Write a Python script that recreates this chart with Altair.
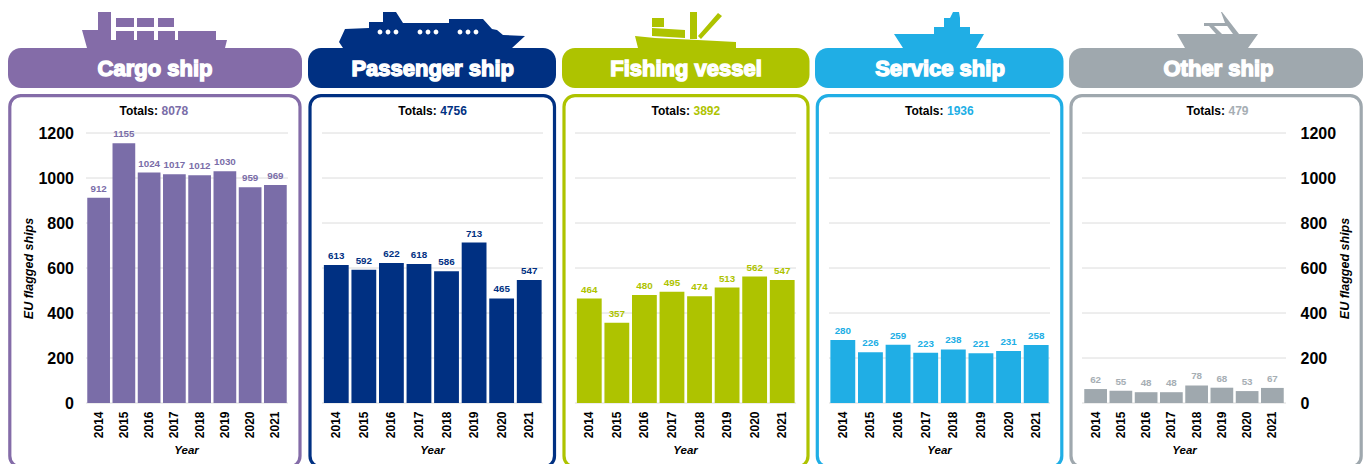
import altair as alt
import pandas as pd

FONT = "Liberation Sans"
years = ["2014", "2015", "2016", "2017", "2018", "2019", "2020", "2021"]
y_ticks = [0, 200, 400, 600, 800, 1000, 1200]

names = ["Cargo ship", "Passenger ship", "Fishing vessel", "Service ship", "Other ship"]
totals = ["8078", "4756", "3892", "1936", "479"]
cargo = [912, 1155, 1024, 1017, 1012, 1030, 959, 969]
passenger = [613, 592, 622, 618, 586, 713, 465, 547]
fishing = [464, 357, 480, 495, 474, 513, 562, 547]
service = [280, 226, 259, 223, 238, 221, 231, 258]
other = [62, 55, 48, 48, 78, 68, 53, 67]
series = [cargo, passenger, fishing, service, other]

header_colors = ["#846CA8", "#003082", "#AEC300", "#20AEE5", "#9FA8AE"]
bar_colors = ["#7A6DA8", "#003082", "#AEC300", "#20AEE5", "#9FA8AE"]
label_colors = ["#7A6DA8", "#003082", "#AEC300", "#20AEE5", "#A6AEB4"]

# page-pixel layout of each panel (the page allows 8..1363 across)
starts = [8, 308, 562, 815, 1069]
ends = [308, 562, 815, 1069, 1363]
frame_l = [9.8, 310, 564, 817.3, 1071]
frame_r = [300, 554.5, 808, 1061.8, 1361.2]
head_l = [8, 308, 562, 815, 1069]
head_r = [302, 556, 809.5, 1063.5, 1363]
plot_l = [86, 322, 575, 829, 1082]
plot_r = [288, 543, 796, 1050, 1286]
band_l = [86, 322.5, 575.5, 829, 1083]
band_r = [288, 543, 796, 1050, 1285]
title_cx = [155, 432.7, 686, 940, 1218.5]
total_split = [158, 436.7, 690, 943.5, 1225]
year_cx = [186, 432, 685, 939, 1184]
TOP = 8
HEIGHT = 460

ships = [
    [[(82, 30), (98, 30), (98, 12), (111, 12), (111, 40), (116, 40), (116, 31), (134, 31), (134, 40),
      (137, 40), (137, 31), (154, 31), (154, 40), (158, 40), (158, 31), (175, 31), (175, 40), (178, 40),
      (178, 31), (216, 31), (216, 40), (227, 40), (225, 48), (87, 48)],
     [(116, 18), (134, 18), (134, 27), (116, 27)],
     [(137, 18), (154, 18), (154, 27), (137, 27)],
     [(158, 18), (174, 18), (174, 27), (158, 27)]],
    [[(343, 48), (339, 42), (345, 29), (369, 28), (369, 22), (383, 22), (383, 12), (396, 12), (403, 23),
      (449, 23), (449, 19), (483, 19), (492, 29), (497, 30), (503, 35), (525, 36), (512, 48)]],
    [[(635, 36), (655, 38), (698, 40), (736, 42), (736, 48), (638, 48)],
     [(652, 28), (685, 30), (685, 38), (652, 36)],
     [(652, 18), (664, 18), (664, 27), (652, 27)],
     [(690, 12), (697, 12), (697, 39), (690, 39)],
     [(698, 36), (718, 13), (722, 16), (701, 39)]],
    [[(894, 34), (934, 34), (934, 27), (944, 27), (944, 18), (950, 18), (953, 12), (959, 12), (960, 18),
      (960, 27), (970, 27), (970, 34), (984, 34), (976, 48), (903, 48)]],
    [[(1177, 34), (1258, 34), (1248, 48), (1185, 48)],
     [(1204, 23), (1228, 23), (1228, 26), (1204, 26)],
     [(1209, 26), (1214, 26), (1222, 34), (1216, 34)],
     [(1221, 12), (1222, 12), (1239, 34), (1233, 34), (1225, 23)]],
]
dots = [380, 388, 396, 420, 428, 436, 460, 468, 476]
DOT_Y = 32

one = pd.DataFrame({"k": [0]})


def path_of(shapes, ox, oy):
    out = []
    for s in shapes:
        out.append("M" + " L".join(f"{x - ox:.1f} {y - oy:.1f}" for x, y in s) + " Z")
    return " ".join(out)


def panel(i):
    s, e = starts[i], ends[i]
    W = e - s
    L = lambda v: v - s
    T = lambda v: v - TOP
    df = pd.DataFrame({"year": years, "value": series[i]})
    ticks = pd.DataFrame({"t": y_ticks})

    x_scale = alt.Scale(domain=years, range=[L(band_l[i]), L(band_r[i])], paddingInner=0.1, paddingOuter=0.05)
    y_scale = alt.Scale(domain=[0, 1200], range=[T(403), T(133)])

    if i == 0:
        y_axis = alt.Axis(orient="left", offset=-L(plot_l[i]), values=y_ticks, grid=False, domain=False, ticks=False,
                          zindex=1, format="d",
                          labelFont=FONT, labelFontSize=16, labelFontWeight="bold", labelColor="#000000",
                          labelPadding=12.5, title="EU flagged ships", titleFont=FONT, titleFontSize=12.5,
                          titleFontWeight="bold", titleFontStyle="italic", titleColor="#000000",
                          titleAngle=270, titleX=28 - plot_l[i], titleY=T(268), titleAlign="center",
                          titleBaseline="middle")
    elif i == 4:
        y_axis = alt.Axis(orient="right", offset=-(W - L(plot_r[i])), values=y_ticks, grid=False, domain=False, ticks=False,
                          zindex=1, format="d",
                          labelFont=FONT, labelFontSize=16, labelFontWeight="bold", labelColor="#000000",
                          labelPadding=14, title="EU flagged ships", titleFont=FONT, titleFontSize=12.5,
                          titleFontWeight="bold", titleFontStyle="italic", titleColor="#000000",
                          titleAngle=270, titleX=1344 - plot_r[i], titleY=T(268), titleAlign="center",
                          titleBaseline="middle")
    else:
        y_axis = None

    x_axis = alt.Axis(orient="bottom", offset=-(HEIGHT - T(403)), grid=False, domain=False, ticks=False,
                      zindex=1,
                      labelFont=FONT, labelFontSize=12, labelFontWeight="bold", labelColor="#000000",
                      labelAngle=270, labelAlign="right", labelBaseline="middle", labelPadding=8,
                      labelOverlap=False, labelBound=False,
                      title="Year", titleFont=FONT, titleFontSize=11.5, titleFontWeight="bold",
                      titleFontStyle="italic", titleColor="#000000", titleX=L(year_cx[i]), titleY=47,
                      titleAlign="center", titleBaseline="middle")

    base = alt.Chart(one)
    frame = base.mark_rect(fillOpacity=0, stroke=header_colors[i], strokeWidth=3.2, cornerRadius=11).encode(
        x=alt.value(L(frame_l[i])), x2=alt.value(L(frame_r[i])), y=alt.value(T(95.7)), y2=alt.value(T(467)))
    head = base.mark_rect(fill=header_colors[i], cornerRadius=13).encode(
        x=alt.value(L(head_l[i])), x2=alt.value(L(head_r[i])), y=alt.value(T(48)), y2=alt.value(T(88)))
    ship = base.mark_point(shape=path_of(ships[i], s + 10, TOP + 10), size=4, filled=True, fill=header_colors[i],
                           opacity=1, strokeWidth=0).encode(x=alt.value(10), y=alt.value(10))
    head_text = base.mark_text(text=names[i], font=FONT, fontSize=22, fontWeight="bold", fill="#ffffff",
                               stroke="#ffffff", strokeWidth=1.4, align="center", baseline="middle").encode(
        x=alt.value(L(title_cx[i])), y=alt.value(T(68.5)))
    tot_a = base.mark_text(text="Totals:", font=FONT, fontSize=12, fontWeight="bold", fill="#000000",
                           align="right", baseline="middle").encode(
        x=alt.value(L(total_split[i])), y=alt.value(T(110.5)))
    tot_b = base.mark_text(text=totals[i], font=FONT, fontSize=12, fontWeight="bold", fill=label_colors[i],
                           align="left", baseline="middle").encode(
        x=alt.value(L(total_split[i]) + 3.5), y=alt.value(T(110.5)))
    grid = alt.Chart(ticks).mark_rule(color="#dcdcdc", strokeWidth=1).encode(
        y=alt.Y("t:Q", scale=y_scale, axis=y_axis),
        x=alt.value(L(plot_l[i])), x2=alt.value(L(plot_r[i])))
    bars = alt.Chart(df).mark_bar(color=bar_colors[i]).encode(
        x=alt.X("year:N", scale=x_scale, axis=x_axis, sort=years),
        y=alt.Y("value:Q", scale=y_scale, axis=y_axis))
    labels = alt.Chart(df).mark_text(font=FONT, fontSize=9.8, fontWeight="bold", fill=label_colors[i],
                                     baseline="bottom", dy=-4).encode(
        x=alt.X("year:N", scale=x_scale, axis=x_axis, sort=years),
        y=alt.Y("value:Q", scale=y_scale, axis=y_axis),
        text="value:Q")
    layers = [frame, head, ship]
    if i == 1:
        dot_path = " ".join(
            f"M{d - s - 10 - 2.4:.1f} {DOT_Y - TOP - 10:.1f} A2.4 2.4 0 1 1 {d - s - 10 + 2.4:.1f} {DOT_Y - TOP - 10:.1f} "
            f"A2.4 2.4 0 1 1 {d - s - 10 - 2.4:.1f} {DOT_Y - TOP - 10:.1f} Z" for d in dots)
        layers.append(base.mark_point(shape=dot_path, size=4, filled=True, fill="#ffffff", opacity=1,
                                      strokeWidth=0).encode(x=alt.value(10), y=alt.value(10)))
    layers += [head_text, tot_a, tot_b, grid, bars, labels]
    return alt.layer(*layers).properties(width=W, height=HEIGHT)


chart = alt.hconcat(*[panel(i) for i in range(5)], spacing=0).properties(
    padding=0, background="#ffffff"
).configure_view(stroke=None)

chart.save("out.html", embed_options={"renderer": "svg", "actions": False})
